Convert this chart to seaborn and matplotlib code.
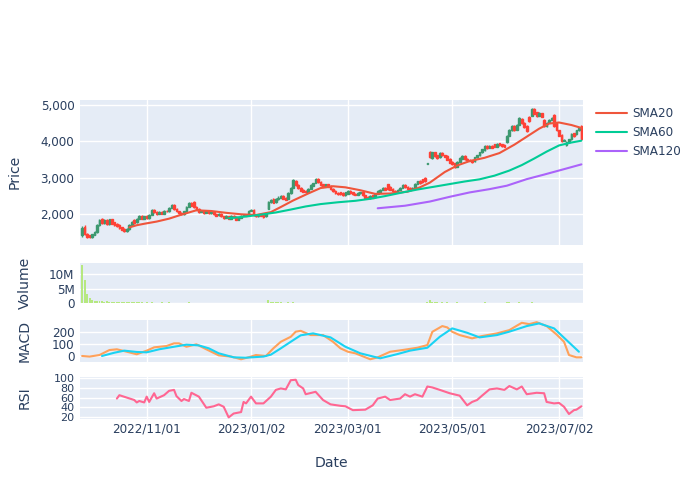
import numpy as np
import pandas as pd
import matplotlib
matplotlib.use("Agg")
import matplotlib.pyplot as plt
import seaborn as sns
from matplotlib.lines import Line2D
from matplotlib.ticker import FuncFormatter

# ---------------- data ----------------
start_date = "2022-09-26"
end_date = "2023-07-17"
holidays = ["2022-11-24", "2022-12-26", "2023-01-02", "2023-01-16", "2023-02-20",
            "2023-04-07", "2023-05-29", "2023-06-19", "2023-07-04"]

opens = [1420,1650,1470,1420,1380,1440,1520,1700,1860,1760,
 1850,1720,1860,1780,1740,1700,1640,1600,1530,1590,
 1700,1850,1780,1880,1960,1880,1950,1890,1990,2120,
 2060,2010,2070,2020,2100,2080,2170,2250,2140,2080,
 2040,2000,2080,2200,2320,2340,2200,2140,2060,2100,
 2040,2080,2030,2060,2000,1970,2010,1940,1900,1940,
 1880,1950,1920,1850,1900,1950,1990,1970,2100,2120,
 1980,1940,1990,1980,1940,2150,2330,2430,2330,2410,
 2460,2500,2450,2420,2580,2720,2900,2800,2720,2680,
 2640,2610,2700,2790,2860,2970,2880,2820,2760,2820,
 2780,2700,2650,2590,2600,2580,2520,2560,2650,2600,
 2560,2540,2580,2600,2520,2470,2440,2520,2470,2560,
 2620,2680,2720,2820,2760,2690,2640,2610,2680,2720,
 2800,2750,2720,2690,2720,2830,2920,2960,3000,3390,
 3700,3550,3700,3620,3560,3680,3620,3600,3520,3440,
 3400,3310,3440,3520,3600,3530,3500,3480,3450,3560,
 3620,3700,3760,3880,3820,3880,3920,3860,3950,3920,
 3900,3980,4160,4300,4420,4320,4460,4620,4500,4420,
 4680,4700,4900,4800,4700,4770,4600,4420,4520,4600,
 4720,4500,4300,4180,4020,3900,3980,4060,4220,4200,
 4300,4420]

closes = [1620,1450,1380,1370,1450,1520,1700,1850,1760,1830,
 1720,1860,1740,1700,1680,1620,1580,1530,1600,1700,
 1800,1760,1880,1960,1880,1940,1890,1990,2120,2050,
 2010,2060,2020,2100,2080,2180,2250,2140,2080,2030,
 2000,2080,2200,2300,2240,2200,2130,2060,2100,2040,
 2080,2030,2060,2000,1960,2010,1940,1900,1950,1880,
 1950,1920,1850,1900,1960,1990,1960,2100,2120,1980,
 1940,1990,1960,1930,2020,2330,2400,2320,2420,2460,
 2500,2430,2400,2580,2720,2930,2800,2720,2650,2620,
 2600,2700,2800,2850,2960,2880,2800,2760,2820,2760,
 2700,2640,2580,2560,2560,2520,2600,2650,2580,2560,
 2540,2580,2600,2520,2460,2440,2500,2460,2560,2640,
 2680,2720,2680,2700,2680,2640,2600,2680,2720,2800,
 2740,2700,2680,2720,2830,2900,2860,2880,2900,3400,
 3560,3700,3600,3540,3680,3620,3580,3500,3420,3380,
 3300,3440,3540,3600,3520,3500,3470,3440,3560,3620,
 3700,3780,3880,3820,3870,3830,3860,3940,3900,3880,
 3860,4160,4300,4420,4300,4460,4640,4500,4400,4280,
 4560,4880,4760,4700,4780,4680,4420,4500,4600,4650,
 4420,4300,4160,4000,4050,3980,4060,4200,4140,4300,
 4380,4080]

highs = [1680,1700,1500,1440,1470,1540,1720,1880,1890,1860,
 1870,1880,1870,1800,1760,1720,1660,1620,1620,1720,
 1820,1870,1900,1990,1980,1960,1970,2010,2150,2140,
 2080,2080,2090,2120,2120,2200,2280,2270,2160,2100,
 2060,2100,2220,2330,2350,2360,2220,2160,2120,2120,
 2100,2100,2080,2080,2020,2030,2030,1960,1970,1960,
 1970,1970,1940,1920,1980,2010,2010,2120,2150,2140,
 2000,2010,2010,2000,2040,2360,2430,2450,2440,2490,
 2530,2520,2470,2600,2750,2960,2930,2820,2740,2700,
 2660,2720,2820,2870,2990,2990,2900,2840,2840,2840,
 2800,2720,2670,2610,2620,2600,2620,2670,2670,2620,
 2580,2600,2620,2620,2540,2490,2520,2540,2580,2660,
 2700,2740,2740,2840,2780,2710,2660,2700,2740,2820,
 2820,2770,2740,2740,2850,2920,2940,2980,3020,3410,
 3740,3720,3720,3640,3700,3700,3640,3620,3540,3460,
 3420,3460,3560,3620,3620,3550,3520,3500,3580,3640,
 3720,3800,3900,3900,3890,3900,3940,3960,3970,3940,
 3920,4180,4330,4450,4440,4480,4670,4640,4520,4440,
 4700,4920,4920,4820,4800,4790,4620,4520,4620,4680,
 4740,4520,4320,4200,4070,4000,4080,4220,4240,4320,
 4400,4440]

lows = [1390,1420,1350,1340,1360,1420,1500,1680,1740,1740,
 1700,1710,1720,1680,1660,1600,1560,1510,1520,1580,
 1690,1740,1770,1870,1860,1870,1870,1880,1980,2030,
 1990,2000,2000,2010,2060,2070,2160,2120,2060,2010,
 1980,1990,2070,2190,2220,2180,2110,2040,2050,2020,
 2030,2010,2020,1980,1940,1960,1920,1880,1890,1860,
 1870,1900,1830,1840,1890,1940,1940,1960,2080,1960,
 1920,1930,1940,1910,1930,2140,2310,2300,2320,2400,
 2450,2410,2380,2410,2570,2710,2780,2700,2630,2600,
 2580,2600,2690,2780,2850,2860,2780,2740,2750,2740,
 2680,2620,2560,2540,2540,2500,2510,2550,2560,2540,
 2520,2530,2570,2500,2440,2420,2430,2440,2460,2550,
 2610,2670,2660,2680,2660,2620,2580,2600,2670,2710,
 2720,2680,2660,2680,2710,2820,2840,2860,2880,3380,
 3540,3530,3580,3520,3550,3600,3560,3480,3400,3360,
 3280,3300,3430,3510,3500,3480,3450,3420,3440,3550,
 3610,3690,3750,3800,3810,3810,3840,3850,3880,3860,
 3840,3970,4150,4290,4280,4310,4450,4480,4380,4260,
 4540,4690,4740,4680,4690,4660,4400,4400,4510,4590,
 4400,4280,4140,3980,4000,3880,3970,4050,4120,4190,
 4290,4060]

volume_millions = [13.0,7.9,3.0,1.7,1.0,0.7,0.8,0.9,0.7,0.6,
 0.7,0.6,0.5,0.4,0.5,0.4,0.3,0.4,0.3,0.3,
 0.4,0.3,0.3,0.4,0.3,0.2,0.3,0.2,0.3,0.2,
 0.2,0.2,0.3,0.2,0.2,0.3,0.2,0.2,0.2,0.2,
 0.2,0.2,0.2,0.3,0.2,0.2,0.2,0.2,0.1,0.2,
 0.2,0.2,0.1,0.2,0.2,0.1,0.2,0.1,0.2,0.2,
 0.1,0.2,0.1,0.2,0.1,0.2,0.1,0.2,0.2,0.1,
 0.2,0.1,0.2,0.1,0.2,1.0,0.6,0.4,0.3,0.3,
 0.3,0.2,0.2,0.3,0.2,0.3,0.2,0.2,0.2,0.2,
 0.2,0.1,0.2,0.2,0.2,0.2,0.1,0.2,0.1,0.2,
 0.1,0.2,0.1,0.1,0.2,0.1,0.1,0.2,0.1,0.1,
 0.2,0.1,0.1,0.1,0.2,0.1,0.1,0.1,0.2,0.1,
 0.2,0.1,0.1,0.2,0.1,0.2,0.1,0.2,0.1,0.1,
 0.2,0.1,0.1,0.2,0.1,0.2,0.2,0.1,0.2,0.4,
 1.1,0.5,0.4,0.3,0.2,0.3,0.2,0.3,0.2,0.2,
 0.2,0.3,0.2,0.2,0.1,0.2,0.2,0.1,0.2,0.2,
 0.2,0.2,0.3,0.2,0.2,0.1,0.2,0.2,0.1,0.2,
 0.1,0.3,0.3,0.2,0.2,0.2,0.3,0.2,0.2,0.2,
 0.2,0.3,0.2,0.2,0.2,0.2,0.2,0.1,0.2,0.1,
 0.2,0.2,0.2,0.2,0.1,0.2,0.2,0.1,0.2,0.1,
 0.2,0.2]

sma20_day = [19,22,25,30,35,40,46,52,58,64,70,76,80,85,91,96,101,106,112,118,124,131,136,140,146,151,156,162,168,174,179,184,188,192,197,201]
sma20_val = [1640,1700,1740,1800,1880,1990,2110,2090,2040,2000,1980,2060,2200,2380,2570,2720,2770,2740,2660,2560,2570,2620,2740,2870,3160,3340,3460,3550,3680,3910,4130,4350,4490,4520,4450,4370]

sma60_day = [59,66,72,78,84,90,96,103,110,116,122,129,135,142,148,154,160,166,172,177,182,187,192,197,201]
sma60_val = [1890,1940,1990,2050,2130,2215,2280,2330,2370,2425,2500,2600,2680,2760,2830,2900,2960,3060,3200,3350,3530,3720,3890,3970,4020]

sma120_day = [119,130,140,148,156,164,171,179,186,193,201]
sma120_val = [2165,2235,2350,2480,2600,2690,2785,2965,3090,3220,3370]

macd_day = [0,3,7,11,14,18,22,26,29,34,37,39,42,46,50,55,60,64,68,70,74,77,80,84,86,88,92,97,101,104,107,110,116,119,124,129,135,139,141,145,147,149,152,157,161,167,172,177,180,183,187,191,194,196,199,201]
macd_val = [0,-5,8,49,55,35,14,44,71,82,104,104,76,96,55,5,-5,-27,-5,8,0,63,117,158,200,207,172,172,117,63,35,22,-27,-11,35,49,68,90,199,246,235,199,172,145,164,186,213,273,262,278,246,177,117,8,-11,-11]

signal_day = [8,13,17,22,26,31,37,42,47,51,55,61,66,73,76,80,84,88,93,100,106,112,120,127,132,139,144,149,155,160,167,172,179,184,190,195,200]
signal_val = [0,27,44,33,30,55,76,93,87,63,22,-11,-14,-5,11,63,117,170,186,153,76,22,-19,16,44,68,158,227,191,153,172,200,246,268,227,131,35]

rsi_day = [14,15,18,21,22,23,25,26,27,29,30,33,35,37,38,40,41,43,44,47,50,53,55,57,59,61,64,65,66,68,70,73,76,78,80,82,84,86,87,89,90,94,97,100,104,106,109,114,117,119,122,124,128,130,132,134,137,139,141,144,148,152,155,157,159,161,164,167,170,172,175,177,179,183,186,187,190,192,194,196,198,199,201]
rsi_val = [58,65,60,55,50,53,50,62,51,69,58,65,74,76,63,53,57,53,70,62,39,42,46,41,19,27,30,51,48,62,48,48,62,76,79,77,96,97,86,79,67,72,55,46,43,42,34,35,44,58,62,55,58,67,62,67,62,83,81,76,69,64,44,51,55,64,77,79,76,84,77,83,67,70,69,51,48,49,41,26,34,35,42]

tick_dates = ["2022-11-01", "2023-01-02", "2023-03-01", "2023-05-01", "2023-07-02"]
price_ticks = [2000, 3000, 4000, 5000]
volume_ticks = [0, 5, 10]
macd_ticks = [0, 100, 200]
rsi_ticks = [20, 40, 60, 80, 100]

# ---------------- style ----------------
INC, DEC = "#3D9970", "#FF4136"
C_SMA20, C_SMA60, C_SMA120 = "#EF553B", "#00CC96", "#AB63FA"
C_MACD, C_SIG, C_RSI, C_VOL = "#FFA15A", "#19D3F3", "#FF6692", "#B6E880"
TXT = "#2a3f5f"

sns.set_theme(style="darkgrid", rc={
    "axes.facecolor": "#E5ECF6", "figure.facecolor": "white",
    "grid.color": "white", "grid.linewidth": 1.0,
    "axes.edgecolor": "#E5ECF6",
})
plt.rcParams["font.family"] = ["DejaVu Sans"]

W, H = 700, 500
fig = plt.figure(figsize=(7, 5), dpi=100)

def rect(x0, y0, x1, y1):
    return [x0 / W, 1 - y1 / H, (x1 - x0) / W, (y1 - y0) / H]

ax_p = fig.add_axes(rect(80, 100, 583, 245))
ax_v = fig.add_axes(rect(80, 262.5, 583, 303.3))
ax_m = fig.add_axes(rect(80, 320, 583, 361.7))
ax_r = fig.add_axes(rect(80, 376.7, 583, 418.5))

n = len(closes)
x = np.arange(n)
dates = pd.bdate_range(start_date, end_date, freq="C", holidays=holidays)[:n]
tick_pos = [int(dates.searchsorted(pd.Timestamp(d))) for d in tick_dates]
tick_lab = [pd.Timestamp(d).strftime("%Y/%m/%d") for d in tick_dates]

# candles
o = np.array(opens, float)
c = np.array(closes, float)
cols = np.where(c >= o, INC, DEC)
ax_p.vlines(x, lows, highs, colors=cols, linewidth=1.0, zorder=3)
ax_p.bar(x, np.abs(c - o), bottom=np.minimum(o, c), width=0.7, color=cols,
         edgecolor=cols, linewidth=1.0, zorder=3)

lw = 1.5
sns.lineplot(x=sma20_day, y=sma20_val, ax=ax_p, color=C_SMA20, linewidth=lw, zorder=4)
sns.lineplot(x=sma60_day, y=sma60_val, ax=ax_p, color=C_SMA60, linewidth=lw, zorder=4)
sns.lineplot(x=sma120_day, y=sma120_val, ax=ax_p, color=C_SMA120, linewidth=lw, zorder=4)

# volume
ax_v.bar(x, np.array(volume_millions) * 1e6, width=0.8, color=C_VOL, linewidth=0, zorder=3)

# macd
sns.lineplot(x=macd_day, y=macd_val, ax=ax_m, color=C_MACD, linewidth=lw, zorder=4)
sns.lineplot(x=signal_day, y=signal_val, ax=ax_m, color=C_SIG, linewidth=lw, zorder=4)

# rsi
sns.lineplot(x=rsi_day, y=rsi_val, ax=ax_r, color=C_RSI, linewidth=lw, zorder=4)

ax_p.set_ylim(1157, 5137)
ax_v.set_ylim(0, 13.9e6)
ax_m.set_ylim(-47, 296)
ax_r.set_ylim(16.7, 103.3)

fs_tick = 8.64
for ax in (ax_p, ax_v, ax_m, ax_r):
    ax.set_xlim(-0.85, n - 1 + 0.65)
    ax.set_xticks(tick_pos)
    ax.set_xticklabels([])
    ax.set_xlabel("")
    ax.set_ylabel("")
    for s in ax.spines.values():
        s.set_visible(False)
    ax.tick_params(length=0, pad=4, labelsize=fs_tick, labelcolor=TXT)
    ax.set_axisbelow(True)

ax_v.grid(False, axis="x")
ax_r.set_xticklabels(tick_lab)
ax_r.tick_params(axis="x", pad=3)
ax_r.tick_params(axis="y", labelsize=8.0)

ax_p.set_yticks(price_ticks)
ax_p.yaxis.set_major_formatter(FuncFormatter(lambda v, _: f"{v:,.0f}"))
ax_v.set_yticks([v * 1e6 for v in volume_ticks])
ax_v.yaxis.set_major_formatter(FuncFormatter(lambda v, _: "0" if v == 0 else f"{v/1e6:.0f}M"))
ax_m.set_yticks(macd_ticks)
ax_r.set_yticks(rsi_ticks)

fs_title = 10.08
fig.text(15 / W, 1 - 172 / H, "Price", rotation=90, ha="center", va="center", fontsize=fs_title, color=TXT)
fig.text(25 / W, 1 - 283 / H, "Volume", rotation=90, ha="center", va="center", fontsize=fs_title, color=TXT)
fig.text(25 / W, 1 - 341 / H, "MACD", rotation=90, ha="center", va="center", fontsize=fs_title, color=TXT)
fig.text(25 / W, 1 - 398 / H, "RSI", rotation=90, ha="center", va="center", fontsize=fs_title, color=TXT)
fig.text(331 / W, 1 - 463 / H, "Date", ha="center", va="center", fontsize=fs_title, color=TXT)

handles = [Line2D([], [], color=C_SMA20, linewidth=lw),
           Line2D([], [], color=C_SMA60, linewidth=lw),
           Line2D([], [], color=C_SMA120, linewidth=lw)]
leg = fig.legend(handles, ["SMA20", "SMA60", "SMA120"], loc="upper left",
                 bbox_to_anchor=(596 / W, 1 - 107 / H), frameon=False, fontsize=fs_tick,
                 handlelength=2.6, handletextpad=0.45, labelspacing=0.5,
                 borderaxespad=0, borderpad=0)
for t in leg.get_texts():
    t.set_color(TXT)

fig.savefig("out.png", dpi=100)
